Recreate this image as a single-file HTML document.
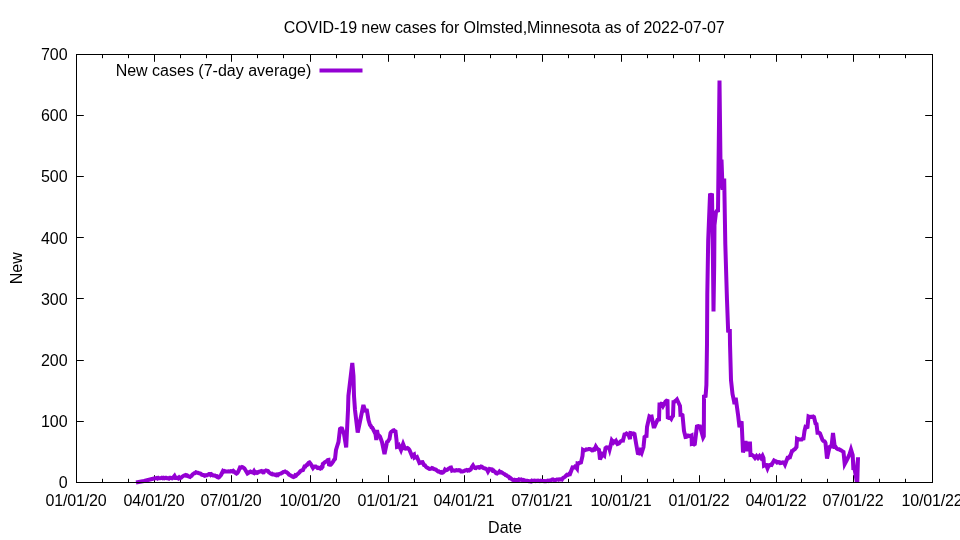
<!DOCTYPE html>
<html><head><meta charset="utf-8"><title>COVID-19 new cases for Olmsted,Minnesota</title>
<style>html,body{margin:0;padding:0;background:#fff;overflow:hidden}svg{display:block}text{font-family:"Liberation Sans",sans-serif;font-size:16px;fill:#000}</style></head><body>
<svg width="960" height="540" viewBox="0 0 960 540">
<rect width="960" height="540" fill="#fff"/>
<path d="M154.5 482.5v-7.3M154.5 54.5v7.3M231.5 482.5v-7.3M231.5 54.5v7.3M310.5 482.5v-7.3M310.5 54.5v7.3M388.5 482.5v-7.3M388.5 54.5v7.3M464.5 482.5v-7.3M464.5 54.5v7.3M542.5 482.5v-7.3M542.5 54.5v7.3M621.5 482.5v-7.3M621.5 54.5v7.3M699.5 482.5v-7.3M699.5 54.5v7.3M776.5 482.5v-7.3M776.5 54.5v7.3M853.5 482.5v-7.3M853.5 54.5v7.3M102.5 482.5v-3.7M102.5 54.5v3.7M128.5 482.5v-3.7M128.5 54.5v3.7M180.5 482.5v-3.7M180.5 54.5v3.7M206.5 482.5v-3.7M206.5 54.5v3.7M257.5 482.5v-3.7M257.5 54.5v3.7M283.5 482.5v-3.7M283.5 54.5v3.7M336.5 482.5v-3.7M336.5 54.5v3.7M362.5 482.5v-3.7M362.5 54.5v3.7M414.5 482.5v-3.7M414.5 54.5v3.7M440.5 482.5v-3.7M440.5 54.5v3.7M490.5 482.5v-3.7M490.5 54.5v3.7M516.5 482.5v-3.7M516.5 54.5v3.7M568.5 482.5v-3.7M568.5 54.5v3.7M594.5 482.5v-3.7M594.5 54.5v3.7M647.5 482.5v-3.7M647.5 54.5v3.7M673.5 482.5v-3.7M673.5 54.5v3.7M724.5 482.5v-3.7M724.5 54.5v3.7M750.5 482.5v-3.7M750.5 54.5v3.7M801.5 482.5v-3.7M801.5 54.5v3.7M827.5 482.5v-3.7M827.5 54.5v3.7M879.5 482.5v-3.7M879.5 54.5v3.7M905.5 482.5v-3.7M905.5 54.5v3.7M76.5 115.5h7.3M932.5 115.5h-7.3M76.5 176.5h7.3M932.5 176.5h-7.3M76.5 237.5h7.3M932.5 237.5h-7.3M76.5 298.5h7.3M932.5 298.5h-7.3M76.5 360.5h7.3M932.5 360.5h-7.3M76.5 421.5h7.3M932.5 421.5h-7.3" stroke="#000" stroke-width="1" fill="none"/>
<text x="76.0" y="505.7" text-anchor="middle" letter-spacing="-0.15">01/01/20</text>
<text x="154.0" y="505.7" text-anchor="middle" letter-spacing="-0.15">04/01/20</text>
<text x="231.0" y="505.7" text-anchor="middle" letter-spacing="-0.15">07/01/20</text>
<text x="310.0" y="505.7" text-anchor="middle" letter-spacing="-0.15">10/01/20</text>
<text x="388.0" y="505.7" text-anchor="middle" letter-spacing="-0.15">01/01/21</text>
<text x="464.0" y="505.7" text-anchor="middle" letter-spacing="-0.15">04/01/21</text>
<text x="542.0" y="505.7" text-anchor="middle" letter-spacing="-0.15">07/01/21</text>
<text x="621.0" y="505.7" text-anchor="middle" letter-spacing="-0.15">10/01/21</text>
<text x="699.0" y="505.7" text-anchor="middle" letter-spacing="-0.15">01/01/22</text>
<text x="776.0" y="505.7" text-anchor="middle" letter-spacing="-0.15">04/01/22</text>
<text x="853.0" y="505.7" text-anchor="middle" letter-spacing="-0.15">07/01/22</text>
<text x="932.0" y="505.7" text-anchor="middle" letter-spacing="-0.15">10/01/22</text>
<text x="67.6" y="59.9" text-anchor="end">700</text>
<text x="67.6" y="120.9" text-anchor="end">600</text>
<text x="67.6" y="181.9" text-anchor="end">500</text>
<text x="67.6" y="243.9" text-anchor="end">400</text>
<text x="67.6" y="304.9" text-anchor="end">300</text>
<text x="67.6" y="365.9" text-anchor="end">200</text>
<text x="67.6" y="426.9" text-anchor="end">100</text>
<text x="67.6" y="487.9" text-anchor="end">0</text>
<text x="283.7" y="33" textLength="441" lengthAdjust="spacing">COVID-19 new cases for Olmsted,Minnesota as of 2022-07-07</text>
<text x="505" y="532.6" text-anchor="middle">Date</text>
<text transform="translate(22,268.3) rotate(-90)" text-anchor="middle">New</text>
<text x="311.3" y="75.8" text-anchor="end">New cases (7-day average)</text>
<path d="M319.5 70.4H362.5" stroke="#9400d3" stroke-width="4" fill="none"/>
<polyline points="136,482.5 144,481 150,479.5 155,478.3 155.83,478.11 156.67,477.92 157.5,478.47 158.33,477.83 159.17,478.34 160,478.3 160.89,478.15 161.78,477.81 162.67,478.31 163.56,477.79 164.44,478.23 165.33,477.83 166.22,477.85 167.11,478.22 168,478.3 168.83,478.58 169.67,477.72 170.5,477.75 171.33,478.11 172.17,478.38 173,477.8 174.5,476 175.5,478 176.42,478.05 177.33,477.82 178.25,478.42 179.17,477.37 180.08,478.23 181,477.8 181.9,477.01 182.8,476.29 183.7,475.7 184.6,475.35 185.5,475 186.4,475.75 187.3,475.45 188.2,476.29 189.1,476.75 190,477 190.86,476.17 191.71,475.68 192.57,474.46 193.43,473.77 194.29,473.25 195.14,473.08 196,472.2 196.8,472.38 197.6,472.52 198.4,473.07 199.2,473.19 200,473.5 200.9,473.74 201.8,474.74 202.7,475.1 203.6,475.06 204.5,475.8 205.4,475.52 206.3,475.11 207.2,475.13 208.1,474.61 209,474 209.83,474.02 210.67,475.03 211.5,474.33 212.33,474.91 213.17,475.53 214,475.5 214.9,475.52 215.8,476.29 216.7,476.19 217.6,477.29 218.5,477.5 219.33,476.96 220.17,475.91 221,475 223,471 223.8,471.51 224.6,471 225.4,471.51 226.2,471.5 227,471.5 227.8,471.49 228.6,471.25 229.4,471.57 230.2,471.59 231,471 231.75,471.1 232.5,471.43 233.25,470.89 234,471.5 234.83,472.39 235.67,473 236.5,473.5 237.5,472.79 238.5,471 240,467.5 241,467.6 242,467 242.83,467.26 243.67,467.87 244.5,468.5 247.5,473.5 248.5,472.94 249.5,472 250.38,471.6 251.25,472.21 252.12,472.01 253,472.5 254,471 255,472.8 255.75,472.3 256.5,472.16 257.25,472.87 258,472.5 258.88,471.72 259.75,471.47 260.62,471.26 261.5,471 263,472.5 263.75,472.41 264.5,471.04 265.25,470.94 266,470.5 267,470.8 268,471 269,472.42 270,473 270.75,473.73 271.5,474.15 272.25,473.88 273,474.5 273.83,474.49 274.67,474.51 275.5,475.17 276.33,475.34 277.17,474.53 278,475 278.75,474.27 279.5,473.96 280.25,473.58 281,473.5 281.83,472.92 282.67,472.46 283.5,471.8 284.25,471.64 285,471.45 285.75,472.01 286.5,472.2 287.38,472.76 288.25,473.67 289.12,474.8 290,475 290.88,475.71 291.75,476.02 292.62,476.63 293.5,477 294.38,476.57 295.25,475.26 296.12,475.56 297,474.5 297.88,473.93 298.75,473.16 299.62,472.2 300.5,471 301.33,470.55 302.17,470.22 303,470 304.5,466.5 305.5,466.5 306.3,465.26 307.1,465.05 307.9,463.62 308.7,462.82 309.5,462.5 310.38,463.55 311.25,464.88 312.12,466.45 313,468 314,466.76 315,466.5 315.83,466.45 316.67,467.12 317.5,468 318.33,467.73 319.17,468.18 320,468.5 320.83,467.48 321.67,467.91 322.5,467 322.8,464 323.61,463.55 324.43,462.47 325.24,462.01 326.06,461.55 326.87,460.99 327.69,460.16 328.5,460 329,464.5 329.83,464.72 330.67,464.71 331.5,464 332.38,462.71 333.25,461.48 334.12,459.79 335,459 336,450 337.5,445 338.5,442 340,429 341,428.31 342,428.5 344,434 346.2,447.5 348,410 348.4,396 352.3,363 353.5,376 354,396 355,410 357.7,432.5 363.4,405 365.1,410.5 366,410.33 366.9,410.5 368.5,420 370,425 370.75,425.74 371.5,427.36 372.25,427.63 373,429 375.5,434 376.3,440 377,430 378,435.5 379,435.48 380,436.5 382,442 384.5,454 387,442 387.83,441.5 388.67,440.03 389.5,439 390.5,433 391.33,431.78 392.17,431.38 393,430.5 393.83,430.31 394.67,431.2 395.5,431.5 396.5,440 397,447 398,446.78 399,445.5 401,450 403.1,444 404.9,448.5 405.77,448.73 406.63,448.38 407.5,448 408.5,448.74 409.5,450 412,456 413,455.1 414,454.5 414.5,457.5 415.33,456.97 416.17,457.47 417,457 419.5,463 420.25,462.79 421,462.81 421.75,462.06 422.5,462 424,465 424.86,465.27 425.71,466.49 426.57,467.25 427.43,467.67 428.29,468.19 429.14,468.78 430,469 431,468.76 432,468 432.86,468.2 433.71,469.02 434.57,469.34 435.43,469.48 436.29,469.98 437.14,470.76 438,471.5 438.83,471.4 439.67,472.05 440.5,472.5 441.33,472.11 442.17,472.81 443,472.5 444,471.54 445,469.5 446,470.25 447,470 447.8,469.35 448.6,468.69 449.4,468.2 450.2,467.67 451,467.5 452,470.5 452.88,470.11 453.75,470.51 454.62,470.75 455.5,470.62 456.38,470.16 457.25,470.29 458.12,470.39 459,470 460,470.29 461,471.5 461.8,471.48 462.6,471.55 463.4,471.21 464.2,470.98 465,470.5 465.83,470.39 466.67,469.98 467.5,470.57 468.33,469.98 469.17,470.41 470,470 470.75,469.39 471.5,467.64 472.25,466.52 473,465.5 474,467.24 475,468 475.88,468.1 476.75,467.34 477.62,467.14 478.5,467.02 479.38,467.7 480.25,467.44 481.12,466.56 482,466.8 482.75,467.58 483.5,468.18 484.25,468.25 485,468.5 486,468.84 487,469.5 488,471.5 489.5,469 490.3,469.35 491.1,469.19 491.9,469.37 492.7,470.72 493.5,470.5 494.38,471.41 495.25,472.03 496.12,473.23 497,473.5 497.83,472.76 498.67,472.58 499.5,471.5 500.4,472.36 501.3,472.18 502.2,472.73 503.1,473.27 504,474 504.8,474.21 505.6,475.1 506.4,475.24 507.2,475.91 508,476.5 508.83,476.68 509.67,478.12 510.5,478.09 511.33,478.79 512.17,479.51 513,480 513.82,480.44 514.64,479.91 515.45,480.46 516.27,480 517.09,480.04 517.91,480.03 518.73,479.47 519.55,479.93 520.36,479.65 521.18,479.45 522,480 522.89,480.47 523.78,479.93 524.67,480.4 525.56,480.83 526.44,480.78 527.33,480.68 528.22,481.03 529.11,481.22 530,481.3 530.89,481.52 531.78,480.69 532.67,481.1 533.56,480.67 534.44,480.61 535.33,481.07 536.22,480.69 537.11,480.66 538,480.5 538.89,480.86 539.78,481.11 540.67,480.67 541.56,480.93 542.44,480.89 543.33,480.98 544.22,481.26 545.11,481.07 546,481.2 546.86,480.99 547.71,480.69 548.57,480.96 549.43,480.45 550.29,480.4 551.14,480.23 552,479.5 552.8,479.34 553.6,479.77 554.4,480.29 555.2,480.27 556,480 556.86,479.53 557.71,479.44 558.57,479.72 559.43,479.24 560.29,479.36 561.14,479.1 562,479.5 563,478 563.75,477.56 564.5,477.06 565.25,476.56 566,475.5 566.8,474.82 567.6,475.14 568.4,474.78 569.2,473.91 570,474 572.5,467.5 573.33,467.59 574.17,467.35 575,466.5 576,467.19 577,468.5 577.5,463.5 578.38,463.75 579.25,462.89 580.12,462.74 581,462.5 582.5,456 583,450 583.83,450.54 584.67,450.37 585.5,450 586.3,449.43 587.1,449.52 587.9,449.42 588.7,449.02 589.5,449 590.33,449.17 591.17,449.8 592,450.5 592.83,450.41 593.67,449.3 594.5,449.5 595.8,446.5 596.65,447.81 597.5,449 599,450 600,459.5 602.5,454 603.4,454.68 604.3,455.5 605.5,448 606.38,447.34 607.25,447.56 608.12,447.76 609,447.5 609.6,449.5 610.6,445.5 611.8,440.3 612.65,441.41 613.5,442.5 614.33,441.52 615.17,442.03 616,441 617.5,444 618.33,443.65 619.17,443.19 620,442 620.75,441.19 621.5,440.99 622.25,440.37 623,440.5 624.5,434.5 625.5,434.31 626.5,433.5 627.33,434.08 628.17,434.76 629,436 630,439 630.5,433 631.3,433.11 632.1,433.85 632.9,433.95 633.7,433.53 634.5,434 636,443 637.8,453.2 639,453.5 640.2,450.8 641.6,453 643.5,447 644.5,437 645.5,436.11 646.5,436 647,427 649.4,416.5 650.13,416.96 650.87,416.58 651.6,416.5 653.6,426.5 654.6,426.5 656.5,422 657.5,420 659,419.5 659.5,404.5 660.33,404.55 661.17,403.72 662,404 663,406 665.5,401.5 666.5,400.76 667.5,401 667.8,417.5 668.7,417.87 669.6,417.75 670.5,418 671.2,418.8 672.1,416.93 673,416 673.5,402 674.38,401.86 675.25,400.9 676.12,400.46 677,399.5 680,406 680.5,414.5 681.5,414.29 682.5,415 684,431 685.5,437 686.33,436.89 687.17,435.52 688,435.5 688.83,436.07 689.67,435.78 690.5,436 691.5,435.5 691.8,444 692.55,443.82 693.3,444.06 694.05,444.47 694.8,444 696.9,426.5 697.67,426.24 698.45,426.09 699.23,426.53 700,426.5 703.1,437.5 703.8,436.2 703.9,420 704,396.5 705.6,396 706.4,385 707,344 707.3,294 708.2,240 710,195 711,194.71 712,195 713,265 713.5,311.5 714.2,265 714.5,225 716,212 717,210.82 718,210.5 719.5,80.5 720.8,188.5 721.5,159.5 722.6,190 724.2,178.5 725.3,244 726.8,294 727,300 728.2,332.5 729.8,329 730,344 731,380 732.5,394 734,401 734.5,404.2 735.7,397.7 738.2,416 739.5,427.2 740.4,424 741.6,421.3 742.5,441 743,452.5 745.5,441 746.5,451 748.5,443.5 750,443.5 750.5,455 751.25,454.88 752,455.01 752.75,455.42 753.5,456 755,458 756.5,456 758,458 759.5,456 761,458 762.5,455.7 763.5,458 764,465.5 764.73,465.13 765.47,464.95 766.2,465 767.5,468.4 768.8,465.3 769.7,465.49 770.6,464.87 771.5,465 774,460.5 774.75,461 775.5,461.15 776.25,461.83 777,462.5 777.8,462.07 778.6,462.43 779.4,462.27 780.2,463.16 781,463 781.75,462.93 782.5,462.41 783.25,462.6 784,462.5 785,464.5 787.5,458 788.33,458.14 789.17,456.9 790,457 792,451 792.75,450.85 793.5,449.93 794.25,449.49 795,449 796.5,447 797,439 797.75,439.49 798.5,439.13 799.25,439.38 800,439.5 800.88,439.46 801.75,439.53 802.62,438.58 803.5,438.5 804.5,431 805.5,427 806.5,427.37 807.5,427 808.5,416.5 809.25,416.85 810,416.9 810.75,416.77 811.5,417 812.33,416.83 813.17,416.51 814,417 815.5,423.5 816.5,424 817.5,432.5 818.33,432.43 819.17,432.69 820,433.5 822.5,440 823.33,440.93 824.17,441.06 825,442 825.5,443 827,458.5 829.5,447 830.5,446.38 831.5,446.5 833,433 834.8,447 835.67,447.04 836.53,448.38 837.4,448.91 838.27,449.19 839.13,449.26 840,450 840.88,450.22 841.75,450.77 842.62,451.46 843.5,452 844.7,464 846.7,460.2 849.3,455 851,449.5 852.7,455 853.4,469.8 854.3,467.5 856.94,482.5" stroke="#9400d3" stroke-width="4" fill="none" stroke-linejoin="miter" stroke-miterlimit="3.8" stroke-linecap="butt"/>
<polyline points="857.25,482.5 858,457.2" stroke="#9400d3" stroke-width="4" fill="none" stroke-linecap="butt"/>
<rect x="76.5" y="54.5" width="856.0" height="428.0" fill="none" stroke="#000" stroke-width="1" shape-rendering="crispEdges"/>
</svg></body></html>
